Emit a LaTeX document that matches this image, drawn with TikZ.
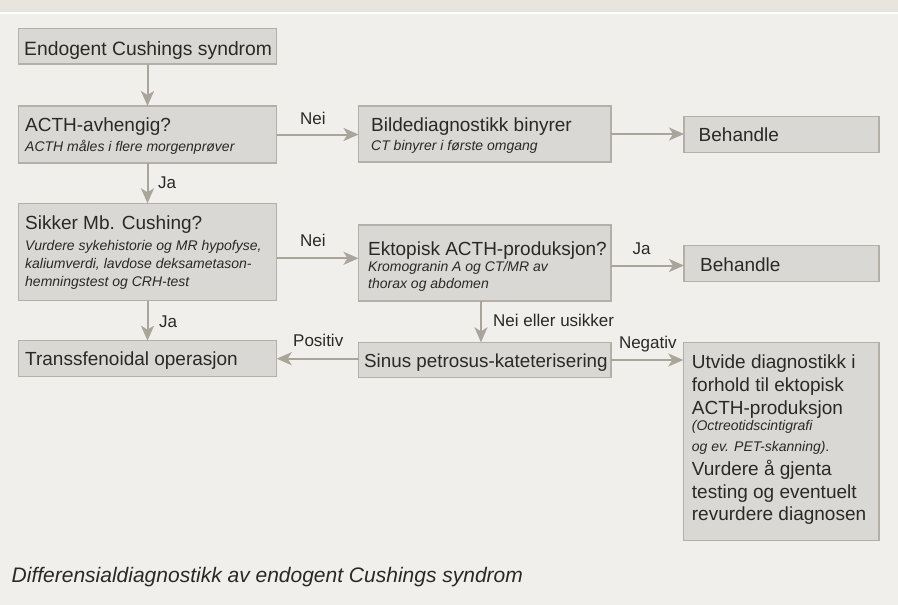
\documentclass[tikz,border=0pt]{standalone}
\usepackage{fontspec}
\setmainfont{Liberation Sans}
\usetikzlibrary{arrows.meta}
\definecolor{bgc}{HTML}{F0EFEB}
\definecolor{bandc}{HTML}{E8E5DE}
\definecolor{boxfill}{HTML}{D9D8D4}
\definecolor{boxline}{HTML}{B4B0A7}
\definecolor{arrc}{HTML}{AAA59B}
\definecolor{txt}{HTML}{2A2928}
\begin{document}
\begin{tikzpicture}[x=1pt,y=-1pt,
  box/.style={rectangle, draw=boxline, fill=boxfill, line width=1.3pt, inner sep=0pt, outer sep=0pt, anchor=north west},
  arr/.style={draw=arrc, line width=2pt, -{Stealth[length=15pt,width=13pt,inset=4pt]}},
  main/.style={anchor=base west, inner sep=0pt, text=txt, font=\fontsize{19}{23}\selectfont},
  sub/.style={anchor=base west, inner sep=0pt, text=txt, font=\fontsize{14}{17}\selectfont\itshape},
  lbl/.style={anchor=base west, inner sep=0pt, text=txt, font=\fontsize{17}{20}\selectfont},
  captext/.style={anchor=base west, inner sep=0pt, text=txt, font=\fontsize{21}{25}\selectfont\itshape},
]
\useasboundingbox (0,0) rectangle (898,605);
\fill[bgc] (0,0) rectangle (898,605);
\fill[bandc] (0,0) rectangle (898,11.7);
\fill[white] (0,11.7) rectangle (898,13.7);

% boxes
\node[box, minimum width=258.4pt, minimum height=35.7pt] (b1) at (18.3,28.3) {};
\node[box, minimum width=258.4pt, minimum height=57pt] (b2) at (18.3,106) {};
\node[box, minimum width=258.4pt, minimum height=97.4pt] (b3) at (18.3,203.3) {};
\node[box, minimum width=258.4pt, minimum height=36pt] (b4) at (18.3,340.7) {};
\node[box, minimum width=252.5pt, minimum height=56pt] (b5) at (358.5,106) {};
\node[box, minimum width=195pt, minimum height=36pt] (b6) at (684,116.7) {};
\node[box, minimum width=252.5pt, minimum height=76pt] (b7) at (358.5,225) {};
\node[box, minimum width=195pt, minimum height=36pt] (b8) at (684,245.7) {};
\node[box, minimum width=252.5pt, minimum height=35.4pt] (b9) at (358.5,342.3) {};
\node[box, minimum width=195.7pt, minimum height=198.4pt] (b10) at (683.3,342.3) {};

% texts
\node[main, font=\fontsize{19.3}{23}\selectfont] (t1) at (24,55) {Endogent Cushings syndrom};
\node[main] (t2a) at (25,131) {ACTH-avhengig?};
\node[sub] (t2b) at (25,151.7) {ACTH måles i flere morgenprøver};
\node[main] (t3a) at (25,229.3) {Sikker Mb. Cushing?};
\node[sub] (t3b) at (25,250) {Vurdere sykehistorie og MR hypofyse,};
\node[sub] (t3c) at (25,268.3) {kaliumverdi, lavdose deksametason-};
\node[sub] (t3d) at (25,286) {hemningstest og CRH-test};
\node[main] (t4) at (25,365) {Transsfenoidal operasjon};
\node[main] (t5a) at (371,131) {Bildediagnostikk binyrer};
\node[sub] (t5b) at (371,150) {CT binyrer i første omgang};
\node[main] (t6) at (698.5,141) {Behandle};
\node[main] (t7a) at (368,255.7) {Ektopisk ACTH-produksjon?};
\node[sub] (t7b) at (368,271.7) {Kromogranin A og CT/MR av};
\node[sub] (t7c) at (368,288.3) {thorax og abdomen};
\node[main] (t8) at (700,271) {Behandle};
\node[main, font=\fontsize{18.8}{23}\selectfont] (t9) at (364,367) {Sinus petrosus-kateterisering};
\node[main] (t10a) at (691.7,368.3) {Utvide diagnostikk i};
\node[main] (t10b) at (691.7,391.7) {forhold til ektopisk};
\node[main] (t10c) at (691.7,414) {ACTH-produksjon};
\node[sub] (t10d) at (691.7,430) {(Octreotidscintigrafi};
\node[sub] (t10e) at (691.7,451.7) {og ev. PET-skanning)\upshape .};
\node[main] (t10f) at (691.7,475.7) {Vurdere å gjenta};
\node[main] (t10g) at (691.7,498.3) {testing og eventuelt};
\node[main] (t10h) at (691.7,520.7) {revurdere diagnosen};

% connectors
\coordinate (ny) at (0,258.3);
\coordinate (jy) at (0,265.5);
\coordinate (vx) at (481,0);
\draw[arr] (b1.south) -- (b2.north);
\draw[arr] (b2.east) -- (b2.east -| b5.west);
\draw[arr] (b5.east) -- (b5.east -| b6.west);
\draw[arr] (b2.south) -- (b3.north);
\draw[arr] (b3.east |- ny) -- (b7.west |- ny);
\draw[arr] (b7.east |- jy) -- (b8.west |- jy);
\draw[arr] (b3.south) -- (b4.north);
\draw[arr] (b7.south -| vx) -- (b9.north -| vx);
\draw[arr] (b9.west |- b4.east) -- (b4.east);
\draw[arr] (b9.east) -- (b9.east -| b10.west);

% labels
\node[lbl] (l1) at (300,124.3) {Nei};
\node[lbl] (l2) at (158,188.3) {Ja};
\node[lbl] (l3) at (300,246.7) {Nei};
\node[lbl] (l4) at (632.5,254) {Ja};
\node[lbl] (l5) at (159,327.7) {Ja};
\node[lbl] (l6) at (493,326.7) {Nei eller usikker};
\node[lbl] (l7) at (293,346.7) {Positiv};
\node[lbl] (l8) at (618.8,348.3) {Negativ};

% caption
\node[captext] (cp) at (11.5,582.5) {Differensialdiagnostikk av endogent Cushings syndrom};
\end{tikzpicture}
\end{document}
